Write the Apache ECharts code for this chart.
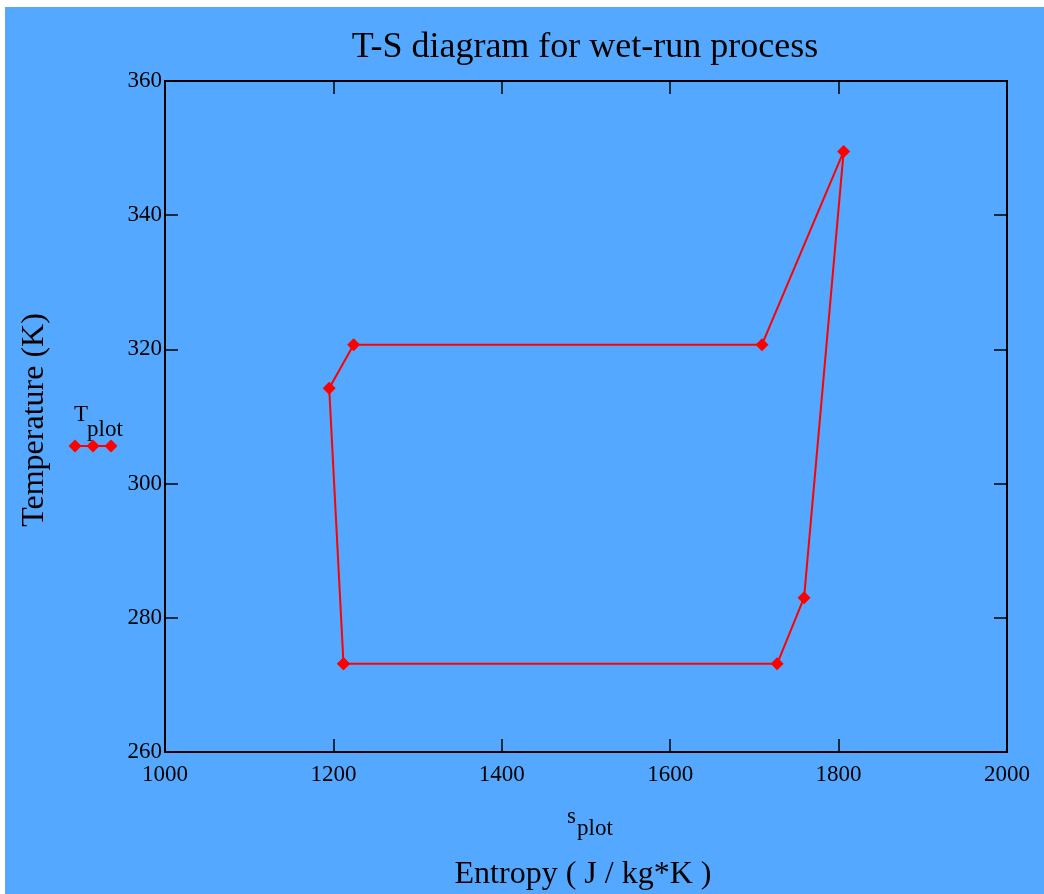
<!DOCTYPE html>
<html>
<head>
<meta charset="utf-8">
<script src="https://cdn.jsdelivr.net/npm/echarts@6/dist/echarts.min.js"></script>
<style>
html,body{margin:0;padding:0;background:#ffffff;width:1044px;height:894px;overflow:hidden;}
#chart{position:absolute;left:5px;top:7px;width:1039px;height:887px;}
</style>
</head>
<body>
<div id="chart"></div>
<script>
// Data (entropy J/kg*K, temperature K)
const sPlot = [1212, 1195, 1224, 1709, 1806, 1759, 1727, 1212];
const TPlot = [273.15, 314.2, 320.7, 320.7, 349.5, 283.0, 273.15, 273.15];
const xTicks = [1000, 1200, 1400, 1600, 1800, 2000];
const yTicks = [260, 280, 300, 320, 340, 360];
const titleText = 'T-S diagram for wet-run process';
const xTitle = 'Entropy ( J / kg*K )';
const yTitle = 'Temperature (K)';

const FONT = '"Liberation Serif", "DejaVu Serif", serif';
const BLUE = '#55a8ff';
const chart = echarts.init(document.getElementById('chart'), null, {renderer: 'canvas'});

const gridPos = {left: 160, top: 74, width: 842, height: 671};
const axisCommon = {
  type: 'value',
  splitLine: {show: false},
  axisLine: {show: true, onZero: false, lineStyle: {color: '#000', width: 2}},
  axisTick: {show: true, inside: true, length: 13, lineStyle: {color: '#000', width: 1.5}},
};
const plain = v => String(v);

chart.setOption({
  backgroundColor: BLUE,
  animation: false,
  grid: Object.assign({containLabel: false}, gridPos),
  xAxis: [
    Object.assign({}, axisCommon, {
      position: 'bottom', min: xTicks[0], max: xTicks[xTicks.length - 1], interval: 200,
      axisLabel: {color: '#000', fontFamily: FONT, fontSize: 23, margin: 11, formatter: plain}
    }),
    Object.assign({}, axisCommon, {
      position: 'top', min: xTicks[0], max: xTicks[xTicks.length - 1], interval: 200,
      axisLabel: {show: false}
    })
  ],
  yAxis: [
    Object.assign({}, axisCommon, {
      position: 'left', min: yTicks[0], max: yTicks[yTicks.length - 1], interval: 20,
      axisLabel: {color: '#000', fontFamily: FONT, fontSize: 23, margin: 3, formatter: plain}
    }),
    Object.assign({}, axisCommon, {
      position: 'right', min: yTicks[0], max: yTicks[yTicks.length - 1], interval: 20,
      axisLabel: {show: false}
    })
  ],
  series: [{
    type: 'line',
    xAxisIndex: 0, yAxisIndex: 0,
    data: sPlot.map((s, i) => [s, TPlot[i]]),
    symbol: 'diamond',
    symbolSize: 13,
    showAllSymbol: true,
    lineStyle: {color: '#ff0000', width: 2},
    itemStyle: {color: '#ff0000'},
    z: 5
  }],
  graphic: [
    {type: 'text', x: 580, y: 41,
     style: {text: titleText, font: '36px ' + FONT, fill: '#000', textAlign: 'center', textVerticalAlign: 'middle'}},
    {type: 'text', x: 578, y: 868,
     style: {text: xTitle, font: '32px ' + FONT, fill: '#000', textAlign: 'center', textVerticalAlign: 'middle'}},
    {type: 'text', x: 30, y: 413, rotation: Math.PI / 2,
     style: {text: yTitle, font: '32px ' + FONT, fill: '#000', textAlign: 'center', textVerticalAlign: 'middle'}},
    // x-axis variable label s_plot
    {type: 'text', x: 562, y: 810,
     style: {text: 's', font: '23px ' + FONT, fill: '#000', textAlign: 'left', textVerticalAlign: 'middle'}},
    {type: 'text', x: 572, y: 822,
     style: {text: 'plot', font: '23px ' + FONT, fill: '#000', textAlign: 'left', textVerticalAlign: 'middle'}},
    // legend T_plot
    {type: 'text', x: 69, y: 408,
     style: {text: 'T', font: '23px ' + FONT, fill: '#000', textAlign: 'left', textVerticalAlign: 'middle'}},
    {type: 'text', x: 82, y: 423,
     style: {text: 'plot', font: '23px ' + FONT, fill: '#000', textAlign: 'left', textVerticalAlign: 'middle'}},
    {type: 'line', shape: {x1: 70, y1: 439, x2: 106, y2: 439},
     style: {stroke: '#ff0000', lineWidth: 2}},
    {type: 'polygon', shape: {points: [[70, 432.5], [76.5, 439], [70, 445.5], [63.5, 439]]}, style: {fill: '#ff0000'}},
    {type: 'polygon', shape: {points: [[88, 432.5], [94.5, 439], [88, 445.5], [81.5, 439]]}, style: {fill: '#ff0000'}},
    {type: 'polygon', shape: {points: [[106, 432.5], [112.5, 439], [106, 445.5], [99.5, 439]]}, style: {fill: '#ff0000'}}
  ]
});
</script>
</body>
</html>
